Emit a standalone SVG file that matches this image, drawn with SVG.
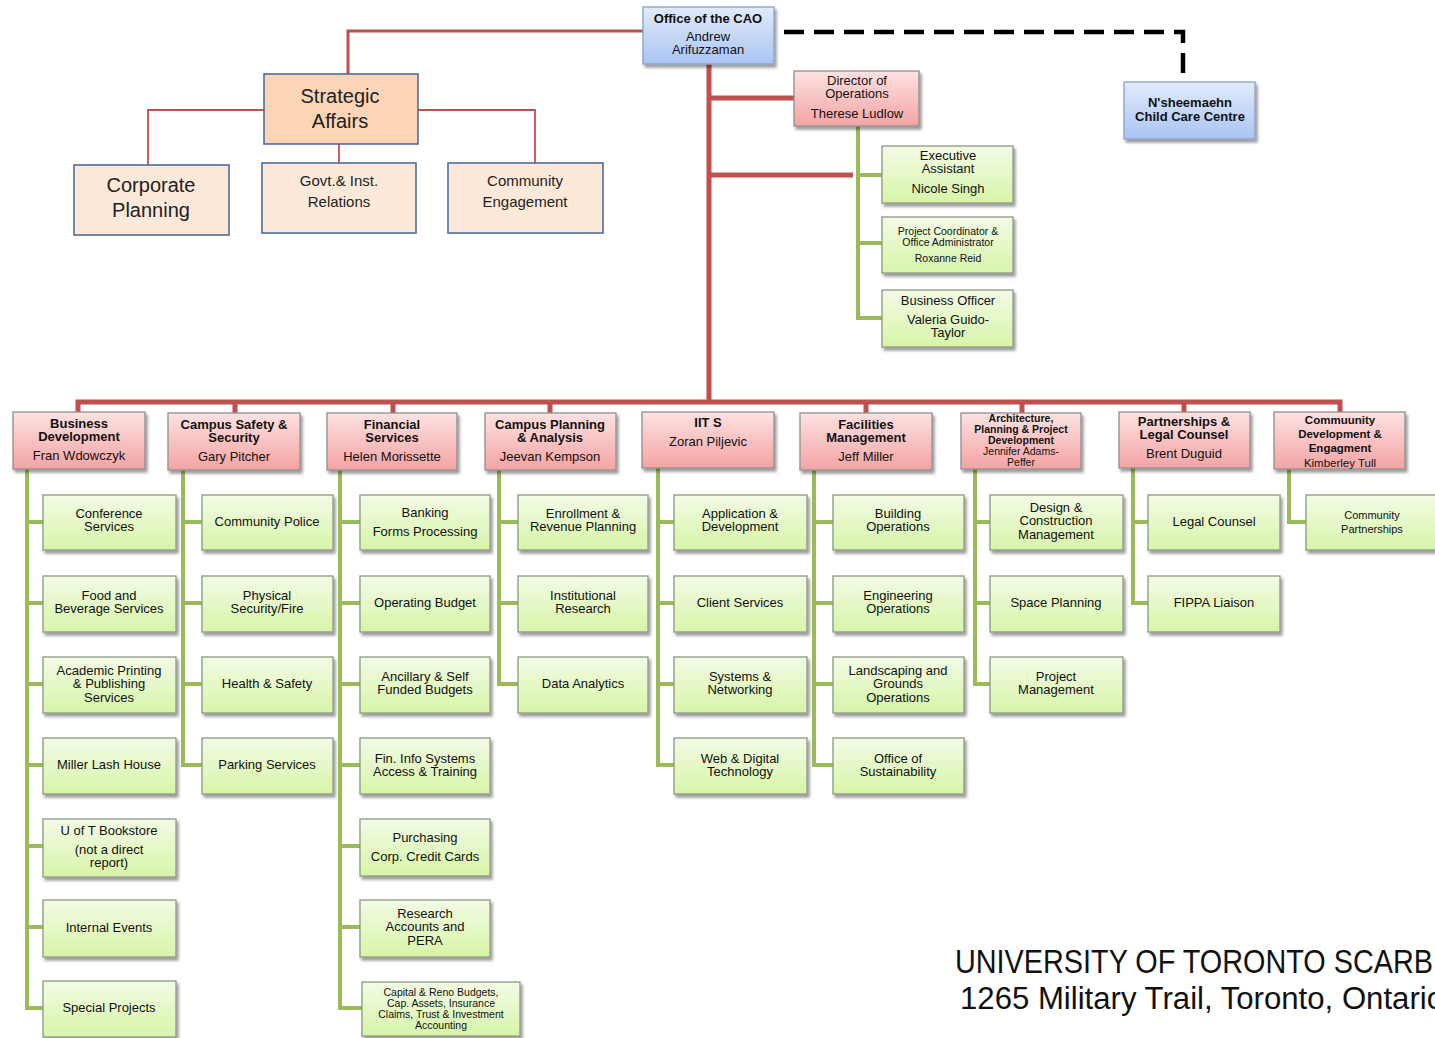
<svg xmlns="http://www.w3.org/2000/svg" width="1435" height="1038" viewBox="0 0 1435 1038">
<defs>
<linearGradient id="gPink" x1="0" y1="0" x2="0" y2="1"><stop offset="0" stop-color="#fde2e2"/><stop offset="1" stop-color="#f4a3a3"/></linearGradient>
<linearGradient id="gGreen" x1="0" y1="0" x2="0" y2="1"><stop offset="0" stop-color="#f3fbe6"/><stop offset="1" stop-color="#d7f5a8"/></linearGradient>
<linearGradient id="gBlue" x1="0" y1="0" x2="0" y2="1"><stop offset="0" stop-color="#e2ebfb"/><stop offset="1" stop-color="#a9c4f2"/></linearGradient>
<filter id="sh" x="-10%" y="-10%" width="130%" height="140%"><feDropShadow dx="2" dy="3" stdDeviation="1.5" flood-color="#000" flood-opacity="0.4"/></filter>
</defs>
<style>
.head{fill:url(#gPink);stroke:#8f8f8f;stroke-width:1.3;filter:url(#sh)}
.leaf{fill:url(#gGreen);stroke:#8d9884;stroke-width:1.3;filter:url(#sh)}
.blue{fill:url(#gBlue);stroke:#8aa0c4;stroke-width:1.3;filter:url(#sh)}
.sa{fill:#fbd5b5;stroke:#4f6d9e;stroke-width:1.6}
.sub{fill:#fde9d9;stroke:#4f6d9e;stroke-width:1.6}
text{font-family:"Liberation Sans",Arial,sans-serif;text-anchor:middle;fill:#111}
.t{font-size:13px}
.b{font-size:13px;font-weight:bold}
.s{font-size:10.5px}
.sb{font-size:10.5px;font-weight:bold}
.m{font-size:11.5px;font-weight:bold}
.big{font-size:20px;fill:#222}
.mid{font-size:15px;fill:#222}
.red{fill:none;stroke:#c0504d;stroke-width:5}
.redt{fill:none;stroke:#c0504d;stroke-width:3}
.redn{fill:none;stroke:#c0504d;stroke-width:1.8}
.grn{fill:none;stroke:#9bbb59;stroke-width:4}
.dash{fill:none;stroke:#000;stroke-width:4.5;stroke-dasharray:20 10}
.foot{font-family:"Liberation Sans",Arial,sans-serif;text-anchor:start}
</style>

<g id="connectors">
<path class="redt" d="M643 31 H348 V74"/>
<path class="redn" d="M264 110 H148 V165 M418 110 H535 V163 M339 144 V163"/>
<path class="dash" d="M784 32 H1183 V82"/>
<path class="red" d="M709 64 V402 M709 98 H794 M709 175 H853"/>
<path class="red" d="M78 412 V402 H1340 V412 M235 402 V413 M393 402 V413 M550 402 V413 M866 402 V413 M1022 402 V413 M1184 402 V412"/>
<path class="grn" d="M858 126 V318 H882 M858 175 H882 M858 243 H882"/>
<path class="grn" d="M27 469 V1008 H43 M27 522 H43 M27 603 H43 M27 684 H43 M27 765 H43 M27 846 H43 M27 927 H43"/>
<path class="grn" d="M183 470 V765 H202 M183 522 H202 M183 603 H202 M183 684 H202"/>
<path class="grn" d="M340 470 V1008 H362 M340 522 H360 M340 603 H360 M340 684 H360 M340 765 H360 M340 846 H360 M340 927 H360"/>
<path class="grn" d="M499 470 V684 H518 M499 522 H518 M499 603 H518"/>
<path class="grn" d="M658 468 V765 H674 M658 522 H674 M658 603 H674 M658 684 H674"/>
<path class="grn" d="M814 470 V765 H833 M814 522 H833 M814 603 H833 M814 684 H833"/>
<path class="grn" d="M975 469 V684 H990 M975 522 H990 M975 603 H990"/>
<path class="grn" d="M1133 468 V603 H1148 M1133 522 H1148"/>
<path class="grn" d="M1289 469 V522 H1306"/>
</g>

<g id="cao"><rect class="blue" x="643" y="7" width="131" height="57"/>
<text class="b" x="708" y="23">Office of the CAO</text><text class="t" x="708" y="41">Andrew</text><text class="t" x="708" y="54">Arifuzzaman</text></g>
<g id="childcare"><rect class="blue" x="1124" y="82" width="131" height="57"/>
<text class="b" x="1190" y="107">N'sheemaehn</text><text class="b" x="1190" y="121">Child Care Centre</text></g>

<g id="strategic"><rect class="sa" x="264" y="74" width="154" height="70"/><text class="big" x="340" y="103">Strategic</text><text class="big" x="340" y="128">Affairs</text></g>
<g id="corporate"><rect class="sub" x="74" y="165" width="155" height="70"/><text class="big" x="151" y="192">Corporate</text><text class="big" x="151" y="217">Planning</text></g>
<g id="govt"><rect class="sub" x="262" y="163" width="154" height="70"/><text class="mid" x="339" y="186">Govt.&amp; Inst.</text><text class="mid" x="339" y="207">Relations</text></g>
<g id="commeng"><rect class="sub" x="448" y="163" width="155" height="70"/><text class="mid" x="525" y="186">Community</text><text class="mid" x="525" y="207">Engagement</text></g>

<g id="director"><rect class="head" x="794" y="71" width="125" height="55"/>
<text class="t" x="857" y="85">Director of</text><text class="t" x="857" y="98">Operations</text><text class="t" x="857" y="118">Therese Ludlow</text></g>
<g id="exec"><rect class="leaf" x="882" y="146" width="131" height="57"/>
<text class="t" x="948" y="160">Executive</text><text class="t" x="948" y="173">Assistant</text><text class="t" x="948" y="193">Nicole Singh</text></g>
<g id="projcoord"><rect class="leaf" x="882" y="217" width="131" height="56"/>
<text class="s" x="948" y="235">Project Coordinator &amp;</text><text class="s" x="948" y="246">Office Administrator</text><text class="s" x="948" y="262">Roxanne Reid</text></g>
<g id="busofficer"><rect class="leaf" x="882" y="290" width="131" height="57"/>
<text class="t" x="948" y="305">Business Officer</text><text class="t" x="948" y="324">Valeria Guido-</text><text class="t" x="948" y="337">Taylor</text></g>

<g id="h-busdev"><rect class="head" x="13" y="412" width="132" height="57"/>
<text class="b" x="79" y="428">Business</text><text class="b" x="79" y="441">Development</text><text class="t" x="79" y="460">Fran Wdowczyk</text></g>
<g id="h-safety"><rect class="head" x="168" y="413" width="132" height="57"/>
<text class="b" x="234" y="429">Campus Safety &amp;</text><text class="b" x="234" y="442">Security</text><text class="t" x="234" y="461">Gary Pitcher</text></g>
<g id="h-fin"><rect class="head" x="327" y="413" width="130" height="57"/>
<text class="b" x="392" y="429">Financial</text><text class="b" x="392" y="442">Services</text><text class="t" x="392" y="461">Helen Morissette</text></g>
<g id="h-cpa"><rect class="head" x="485" y="413" width="131" height="57"/>
<text class="b" x="550" y="429">Campus Planning</text><text class="b" x="550" y="442">&amp; Analysis</text><text class="t" x="550" y="461">Jeevan Kempson</text></g>
<g id="h-iits"><rect class="head" x="642" y="412" width="132" height="56"/>
<text class="b" x="708" y="427">IIT S</text><text class="t" x="708" y="446">Zoran Piljevic</text></g>
<g id="h-fac"><rect class="head" x="800" y="413" width="132" height="57"/>
<text class="b" x="866" y="429">Facilities</text><text class="b" x="866" y="442">Management</text><text class="t" x="866" y="461">Jeff Miller</text></g>
<g id="h-arch"><rect class="head" x="961" y="413" width="120" height="56"/>
<text class="sb" x="1021" y="422">Architecture,</text><text class="sb" x="1021" y="433">Planning &amp; Project</text><text class="sb" x="1021" y="444">Development</text><text class="s" x="1021" y="455">Jennifer Adams-</text><text class="s" x="1021" y="466">Peffer</text></g>
<g id="h-legal"><rect class="head" x="1119" y="412" width="131" height="56"/>
<text class="b" x="1184" y="426">Partnerships &amp;</text><text class="b" x="1184" y="439">Legal Counsel</text><text class="t" x="1184" y="458">Brent Duguid</text></g>
<g id="h-commdev"><rect class="head" x="1274" y="412" width="131" height="57"/>
<text class="m" x="1340" y="424">Commuunity</text><text class="m" x="1340" y="438">Development &amp;</text><text class="m" x="1340" y="452">Engagment</text><text class="s" x="1340" y="467" style="font-size:11.5px">Kimberley Tull</text></g>

<!-- Column 1 -->
<g id="c1r1"><rect class="leaf" x="43" y="495" width="133" height="55"/><text class="t" x="109" y="518">Conference</text><text class="t" x="109" y="531">Services</text></g>
<g id="c1r2"><rect class="leaf" x="43" y="576" width="133" height="56"/><text class="t" x="109" y="600">Food and</text><text class="t" x="109" y="613">Beverage Services</text></g>
<g id="c1r3"><rect class="leaf" x="43" y="657" width="133" height="56"/><text class="t" x="109" y="675">Academic Printing</text><text class="t" x="109" y="688">&amp; Publishing</text><text class="t" x="109" y="702">Services</text></g>
<g id="c1r4"><rect class="leaf" x="43" y="738" width="133" height="56"/><text class="t" x="109" y="769">Miller Lash House</text></g>
<g id="c1r5"><rect class="leaf" x="43" y="819" width="133" height="58"/><text class="t" x="109" y="835">U of T Bookstore</text><text class="t" x="109" y="854">(not a direct</text><text class="t" x="109" y="867">report)</text></g>
<g id="c1r6"><rect class="leaf" x="43" y="900" width="133" height="57"/><text class="t" x="109" y="932">Internal Events</text></g>
<g id="c1r7"><rect class="leaf" x="43" y="981" width="133" height="56"/><text class="t" x="109" y="1012">Special Projects</text></g>

<!-- Column 2 -->
<g id="c2r1"><rect class="leaf" x="202" y="495" width="131" height="55"/><text class="t" x="267" y="526">Community Police</text></g>
<g id="c2r2"><rect class="leaf" x="202" y="576" width="131" height="56"/><text class="t" x="267" y="600">Physical</text><text class="t" x="267" y="613">Security/Fire</text></g>
<g id="c2r3"><rect class="leaf" x="202" y="657" width="131" height="56"/><text class="t" x="267" y="688">Health &amp; Safety</text></g>
<g id="c2r4"><rect class="leaf" x="202" y="738" width="131" height="56"/><text class="t" x="267" y="769">Parking Services</text></g>

<!-- Column 3 -->
<g id="c3r1"><rect class="leaf" x="360" y="495" width="130" height="55"/><text class="t" x="425" y="517">Banking</text><text class="t" x="425" y="536">Forms Processing</text></g>
<g id="c3r2"><rect class="leaf" x="360" y="576" width="130" height="56"/><text class="t" x="425" y="607">Operating Budget</text></g>
<g id="c3r3"><rect class="leaf" x="360" y="657" width="130" height="56"/><text class="t" x="425" y="681">Ancillary &amp; Self</text><text class="t" x="425" y="694">Funded Budgets</text></g>
<g id="c3r4"><rect class="leaf" x="360" y="738" width="130" height="56"/><text class="t" x="425" y="763">Fin. Info Systems</text><text class="t" x="425" y="776">Access &amp; Training</text></g>
<g id="c3r5"><rect class="leaf" x="360" y="819" width="130" height="57"/><text class="t" x="425" y="842">Purchasing</text><text class="t" x="425" y="861">Corp. Credit Cards</text></g>
<g id="c3r6"><rect class="leaf" x="360" y="900" width="130" height="57"/><text class="t" x="425" y="918">Research</text><text class="t" x="425" y="931">Accounts and</text><text class="t" x="425" y="945">PERA</text></g>
<g id="c3r7"><rect class="leaf" x="362" y="982" width="158" height="54"/><text class="s" x="441" y="996">Capital &amp; Reno Budgets,</text><text class="s" x="441" y="1007">Cap. Assets, Insurance</text><text class="s" x="441" y="1018">Claims, Trust &amp; Investment</text><text class="s" x="441" y="1029">Accounting</text></g>

<!-- Column 4 -->
<g id="c4r1"><rect class="leaf" x="518" y="495" width="130" height="55"/><text class="t" x="583" y="518">Enrollment &amp;</text><text class="t" x="583" y="531">Revenue Planning</text></g>
<g id="c4r2"><rect class="leaf" x="518" y="576" width="130" height="56"/><text class="t" x="583" y="600">Institutional</text><text class="t" x="583" y="613">Research</text></g>
<g id="c4r3"><rect class="leaf" x="518" y="657" width="130" height="56"/><text class="t" x="583" y="688">Data Analytics</text></g>

<!-- Column 5 -->
<g id="c5r1"><rect class="leaf" x="674" y="495" width="133" height="55"/><text class="t" x="740" y="518">Application &amp;</text><text class="t" x="740" y="531">Development</text></g>
<g id="c5r2"><rect class="leaf" x="674" y="576" width="133" height="56"/><text class="t" x="740" y="607">Client Services</text></g>
<g id="c5r3"><rect class="leaf" x="674" y="657" width="133" height="56"/><text class="t" x="740" y="681">Systems &amp;</text><text class="t" x="740" y="694">Networking</text></g>
<g id="c5r4"><rect class="leaf" x="674" y="738" width="133" height="56"/><text class="t" x="740" y="763">Web &amp; Digital</text><text class="t" x="740" y="776">Technology</text></g>

<!-- Column 6 -->
<g id="c6r1"><rect class="leaf" x="833" y="495" width="131" height="55"/><text class="t" x="898" y="518">Building</text><text class="t" x="898" y="531">Operations</text></g>
<g id="c6r2"><rect class="leaf" x="833" y="576" width="131" height="56"/><text class="t" x="898" y="600">Engineering</text><text class="t" x="898" y="613">Operations</text></g>
<g id="c6r3"><rect class="leaf" x="833" y="657" width="131" height="56"/><text class="t" x="898" y="675">Landscaping and</text><text class="t" x="898" y="688">Grounds</text><text class="t" x="898" y="702">Operations</text></g>
<g id="c6r4"><rect class="leaf" x="833" y="738" width="131" height="56"/><text class="t" x="898" y="763">Office of</text><text class="t" x="898" y="776">Sustainability</text></g>

<!-- Column 7 -->
<g id="c7r1"><rect class="leaf" x="990" y="495" width="133" height="55"/><text class="t" x="1056" y="512">Design &amp;</text><text class="t" x="1056" y="525">Construction</text><text class="t" x="1056" y="539">Management</text></g>
<g id="c7r2"><rect class="leaf" x="990" y="576" width="133" height="56"/><text class="t" x="1056" y="607">Space Planning</text></g>
<g id="c7r3"><rect class="leaf" x="990" y="657" width="133" height="56"/><text class="t" x="1056" y="681">Project</text><text class="t" x="1056" y="694">Management</text></g>

<!-- Column 8 -->
<g id="c8r1"><rect class="leaf" x="1148" y="495" width="132" height="55"/><text class="t" x="1214" y="526">Legal Counsel</text></g>
<g id="c8r2"><rect class="leaf" x="1148" y="576" width="132" height="56"/><text class="t" x="1214" y="607">FIPPA Liaison</text></g>

<!-- Column 9 -->
<g id="c9r1"><rect class="leaf" x="1306" y="495" width="134" height="55"/><text class="s" x="1372" y="519" style="font-size:11px">Community</text><text class="s" x="1372" y="533" style="font-size:11px">Partnerships</text></g>

<g id="footer">
<text class="foot" x="955" y="973" font-size="34" fill="#1c2463" textLength="478" lengthAdjust="spacingAndGlyphs">UNIVERSITY OF TORONTO SCARB</text>
<text class="foot" x="960" y="1009" font-size="31" fill="#12305f" textLength="484" lengthAdjust="spacingAndGlyphs">1265 Military Trail, Toronto, Ontario</text>
</g>
</svg>
